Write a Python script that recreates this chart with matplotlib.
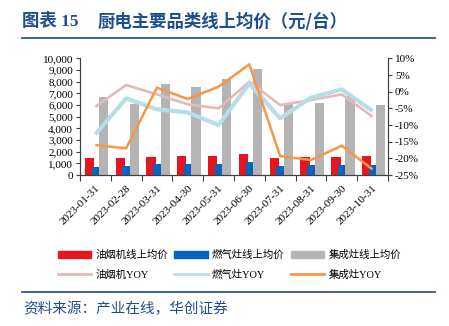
import numpy as np
import matplotlib.pyplot as plt
from matplotlib.lines import Line2D
from matplotlib.patches import Patch

dates = ['2023-01-31', '2023-02-28', '2023-03-31', '2023-04-30', '2023-05-31',
         '2023-06-30', '2023-07-31', '2023-08-31', '2023-09-30', '2023-10-31']
# 线上均价 (元/台)
hood_price = [1500, 1430, 1570, 1630, 1630, 1830, 1460, 1540, 1570, 1600]
stove_price = [710, 740, 910, 940, 910, 1110, 800, 860, 860, 890]
integ_price = [6700, 6100, 7800, 7550, 8200, 9100, 6150, 6200, 6800, 6030]
# YOY (%)
hood_yoy = [-4.5, 2.0, -0.8, -3.8, -5.0, 3.0, -4.0, -2.5, -0.8, -7.5]
stove_yoy = [-12.8, -2.0, -5.3, -6.2, -10.0, 2.5, -8.0, -1.8, 0.7, -5.8]
integ_yoy = [-16.0, -17.0, 1.2, -2.2, 1.5, 8.2, -19.3, -20.5, -16.2, -23.3]

c_red, c_blue, c_grey = '#E8141E', '#0563C1', '#B4B4B4'
c_pink, c_lblue, c_orange = '#E6B9B8', '#B7DEE8', '#F79646'
navy = '#1F4E8C'

fonts = ['Liberation Serif', 'Noto Sans CJK SC']
plt.rcParams['font.family'] = fonts

fig = plt.figure(figsize=(4.49, 3.26), dpi=100)
ax = fig.add_axes([0.178, 0.463, 0.686, 0.358])
ax2 = ax.twinx()

x = np.arange(len(dates))
ax.bar(x - 0.19, hood_price, 0.30, color=c_red, zorder=2)
ax.bar(x + 0.27, integ_price, 0.30, color=c_grey, zorder=2)
ax.bar(x, stove_price, 0.24, color=c_blue, zorder=3)

ax2.plot(x, hood_yoy, color=c_pink, lw=1.9, solid_capstyle='butt')
ax2.plot(x, stove_yoy, color=c_lblue, lw=3.0, solid_capstyle='butt')
ax2.plot(x, integ_yoy, color=c_orange, lw=1.8, solid_capstyle='butt')

ax.set_xlim(-0.5, len(dates) - 0.5)
ax.set_ylim(0, 10000)
ax.set_yticks(range(0, 10001, 1000))
ax.set_yticklabels([f'{v:,}' for v in range(0, 10001, 1000)], fontsize=8)
ax2.set_ylim(-25, 10)
ax2.set_yticks(range(-25, 11, 5))
ax2.set_yticklabels([f'{v}%' for v in range(-25, 11, 5)], fontsize=8)

ax.set_xticks(np.arange(len(dates) + 1) - 0.5)
ax.set_xticklabels([])
ax.set_xticks(x, minor=True)
ax.set_xticklabels(dates, minor=True, rotation=45, ha='right',
                   rotation_mode='anchor', fontsize=8)
ax.tick_params(axis='x', which='minor', length=0, pad=6)
ax.tick_params(axis='x', which='major', length=4, width=0.8, color='#404040')
ax.tick_params(axis='y', length=3, width=0.8, color='#404040', pad=2)
ax2.tick_params(axis='y', length=3, width=0.8, color='#404040', pad=2)

for a in (ax, ax2):
    a.spines['top'].set_visible(False)
    for s in ('left', 'right', 'bottom'):
        a.spines[s].set_color('#404040')
        a.spines[s].set_linewidth(0.8)

handles = [Patch(color=c_red), Line2D([], [], color=c_pink, lw=2),
           Patch(color=c_blue), Line2D([], [], color=c_lblue, lw=2),
           Patch(color=c_grey), Line2D([], [], color=c_orange, lw=2)]
labels = ['油烟机线上均价', '油烟机YOY', '燃气灶线上均价', '燃气灶YOY',
          '集成灶线上均价', '集成灶YOY']
fig.legend(handles, labels, ncol=3, loc='upper left', bbox_to_anchor=(0.12, 0.246),
           frameon=False, fontsize=7.5, handlelength=3.2, handleheight=0.6,
           handletextpad=0.4, columnspacing=0.6, labelspacing=0.9, borderaxespad=0)

# 标题与分隔线
fig.text(22 / 449, 1 - 22 / 326, '图表 15', fontsize=12.5, fontweight='bold',
         color=navy, va='center', ha='left')
fig.text(98 / 449, 1 - 22 / 326, '厨电主要品类线上均价（元/台）', fontsize=12.5,
         fontweight='bold', color=navy, va='center', ha='left',
         family=['Noto Sans CJK SC', 'DejaVu Sans'])
fig.add_artist(Line2D([22 / 449, 435 / 449], [1 - 38.3 / 326] * 2, color='#2F5597', lw=1.3))
fig.add_artist(Line2D([22 / 449, 435 / 449], [1 - 291.7 / 326] * 2, color='#2F5597', lw=1.3))
fig.text(23 / 449, 1 - 309 / 326, '资料来源：产业在线，华创证券', fontsize=10.5,
         style='italic', color=navy, va='center', ha='left',
         family=['Noto Sans CJK SC', 'DejaVu Sans'])

fig.savefig('out.png', dpi=100)
